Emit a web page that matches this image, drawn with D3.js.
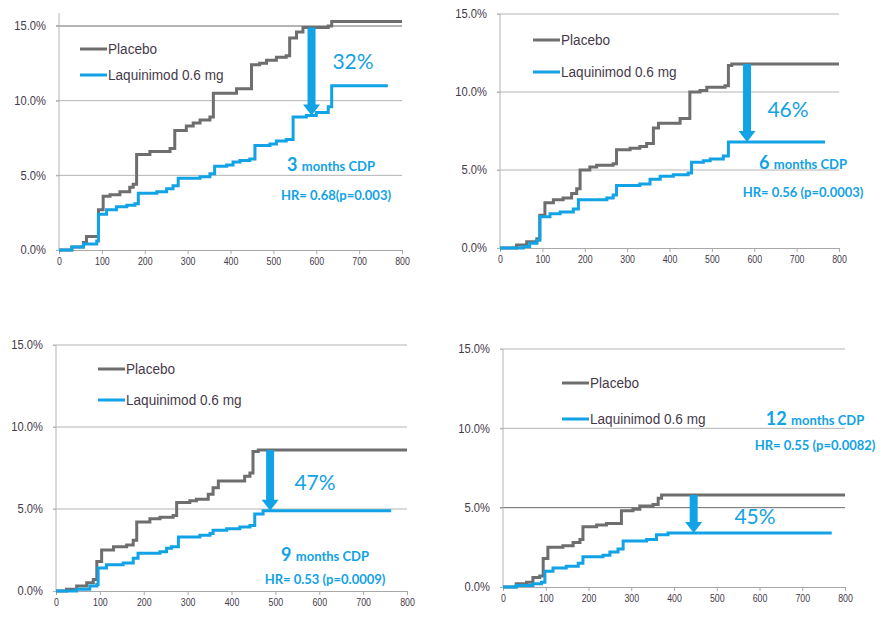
<!DOCTYPE html>
<html>
<head>
<meta charset="utf-8">
<script src="https://cdn.jsdelivr.net/npm/d3@7"></script>
<style>
  html, body { margin: 0; padding: 0; background: #fff; }
  svg { display: block; }
</style>
</head>
<body>
<svg id="chart" width="881" height="619"></svg>
<script>
// Cumulative proportion with confirmed disability progression (%), by study day.
// Each pair is [day, percent] where a new step level begins.
const placebo3m = [[0,0],[30,0.2],[57,0.5],[64,0.9],[92,2.7],[103,3.6],[119,3.7],[142,3.9],[165,4.2],[173,4.4],[181,6.4],[212,6.6],[259,6.8],[270,8.0],[297,8.3],[313,8.5],[329,8.7],[352,8.9],[360,10.5],[414,10.8],[449,12.4],[468,12.5],[484,12.7],[507,12.9],[530,13.0],[538,14.2],[554,14.6],[569,14.9],[628,15.0],[636,15.3],[800,15.3]];
const laquinimod3m = [[0,0],[30,0.2],[57,0.4],[88,0.6],[92,2.4],[111,2.7],[134,2.9],[158,3.0],[177,3.1],[185,3.8],[228,3.9],[251,4.1],[266,4.3],[278,4.8],[329,4.9],[352,5.1],[363,5.6],[391,5.7],[406,5.9],[422,6.0],[445,6.1],[457,7.0],[492,7.1],[507,7.3],[530,7.4],[546,8.9],[577,9.0],[600,9.2],[628,9.6],[636,11.0],[767,11.0]];

const placebo6m = [[0,0],[39,0.2],[63,0.4],[87,0.6],[94,2.1],[106,2.9],[126,3.1],[149,3.2],[169,3.5],[181,3.8],[189,5.0],[212,5.2],[228,5.3],[267,5.4],[275,6.3],[307,6.4],[330,6.5],[346,6.7],[362,7.7],[374,8.0],[425,8.3],[448,10.0],[472,10.1],[488,10.3],[531,10.4],[539,11.7],[547,11.8],[800,11.8]];
const laquinimod6m = [[0,0],[55,0.1],[70,0.3],[87,0.5],[94,2.0],[118,2.2],[142,2.3],[173,2.5],[185,3.1],[252,3.2],[267,3.4],[275,4.0],[330,4.1],[354,4.4],[378,4.6],[409,4.7],[444,4.8],[452,5.5],[480,5.6],[496,5.7],[527,5.9],[539,6.8],[767,6.8]];

const placebo9m = [[0,0],[24,0.1],[47,0.3],[70,0.5],[85,0.7],[93,1.8],[104,2.5],[131,2.7],[161,2.8],[176,3.1],[184,4.2],[214,4.4],[237,4.5],[267,4.6],[275,5.4],[305,5.5],[320,5.6],[347,5.9],[358,6.3],[370,6.7],[430,7.0],[442,7.2],[449,8.5],[461,8.6],[800,8.6]];
const laquinimod9m = [[0,0],[47,0.1],[77,0.3],[93,0.4],[96,1.4],[115,1.6],[153,1.7],[176,2.0],[187,2.3],[237,2.4],[252,2.6],[263,2.7],[279,3.3],[328,3.4],[351,3.5],[358,3.7],[389,3.8],[419,3.9],[442,4.0],[453,4.7],[472,4.9],[764,4.9]];

const placebo12m = [[0,0],[31,0.2],[55,0.3],[70,0.6],[86,0.7],[94,1.8],[105,2.5],[140,2.6],[164,2.8],[180,3.0],[187,3.8],[219,3.9],[242,4.0],[277,4.8],[304,4.9],[320,5.1],[351,5.2],[363,5.6],[371,5.8],[800,5.8]];
const laquinimod12m = [[0,0],[31,0.1],[70,0.2],[90,0.3],[98,1.0],[117,1.2],[148,1.3],[176,1.5],[187,1.9],[234,2.0],[250,2.2],[269,2.4],[281,2.9],[336,3.0],[359,3.3],[386,3.4],[769,3.4]];

// Annotation text and the day at which the risk-reduction arrow is drawn
const cdpMonths = ["3", "6", "9", "12"];
const reductionLabels = ["32%", "46%", "47%", "45%"];
const hazardLabels = ["HR= 0.68(p=0.003)", "HR= 0.56 (p=0.0003)", "HR= 0.53 (p=0.0009)", "HR= 0.55 (p=0.0082)"];
const arrowDays = [589, 583, 488, 446];

const seriesNames = ["Placebo", "Laquinimod 0.6 mg"];
const xTickValues = [0, 100, 200, 300, 400, 500, 600, 700, 800];
const yTickValues = [0, 5, 10, 15];

const placeboColor = "#6e6e6e";
const laqColor = "#12a2e6";
const textColor = "#463a4a";

// Panel geometry
const panels = [
  { placebo: placebo3m,  laq: laquinimod3m,  x0: 59,  x1: 402, yTop: 26,  yBot: 250, axisTop: 13,
    legX: 80,  legY: [49, 75],   pctPos: [353, 62],  cdpPos: [331, 165], hrPos: [336, 195], darkGrid: 15 },
  { placebo: placebo6m,  laq: laquinimod6m,  x0: 500, x1: 839, yTop: 14,  yBot: 248, axisTop: 14,
    legX: 533, legY: [40, 72],   pctPos: [788, 110], cdpPos: [803, 163], hrPos: [803, 192], darkGrid: null },
  { placebo: placebo9m,  laq: laquinimod9m,  x0: 56,  x1: 407, yTop: 345, yBot: 591, axisTop: 345,
    legX: 98,  legY: [369, 400], pctPos: [315, 483], cdpPos: [325, 555], hrPos: [325, 579], darkGrid: null },
  { placebo: placebo12m, laq: laquinimod12m, x0: 503, x1: 845, yTop: 349, yBot: 587, axisTop: 349,
    legX: 562, legY: [383, 419], pctPos: [755, 517], cdpPos: [815, 419], hrPos: [815, 445], darkGrid: 5 }
];

const svg = d3.select("#chart");

function valueAt(series, day) {
  let v = series[0][1];
  for (const [d, p] of series) { if (d <= day) v = p; else break; }
  return v;
}

function condense(sel, factor) {
  sel.each(function () {
    const w = this.getComputedTextLength();
    d3.select(this).attr("textLength", w * factor).attr("lengthAdjust", "spacingAndGlyphs");
  });
}

panels.forEach((p, i) => {
  const x = d3.scaleLinear().domain([0, 800]).range([p.x0, p.x1]);
  const y = d3.scaleLinear().domain([0, 15]).range([p.yBot, p.yTop]);
  const g = svg.append("g");

  // horizontal gridlines
  g.selectAll("line.grid")
    .data(yTickValues.filter(v => v > 0))
    .join("line")
    .attr("x1", x(0) - 3).attr("x2", x(800))
    .attr("y1", d => y(d)).attr("y2", d => y(d))
    .attr("stroke", d => d === p.darkGrid ? "#6a6a6a" : "#b4b4b4")
    .attr("stroke-width", 1);

  // y axis
  const yAxis = g.append("g")
    .attr("transform", `translate(${x(0)},0)`)
    .call(d3.axisLeft(y).tickValues(yTickValues).tickSize(3).tickPadding(10)
      .tickFormat(d => d.toFixed(1) + "%"));
  yAxis.select(".domain").remove();
  yAxis.selectAll(".tick line").attr("stroke", "#b4b4b4");
  yAxis.selectAll(".tick text")
    .attr("fill", textColor)
    .style("font-family", "'Liberation Sans', Arial, sans-serif")
    .style("font-size", "12px")
    .call(condense, 0.93);
  g.append("line")
    .attr("x1", x(0)).attr("x2", x(0))
    .attr("y1", p.axisTop).attr("y2", y(0))
    .attr("stroke", "#b4b4b4");

  // x axis
  const xAxis = g.append("g")
    .attr("transform", `translate(0,${y(0)})`)
    .call(d3.axisBottom(x).tickValues(xTickValues).tickSize(4).tickPadding(4).tickSizeOuter(0));
  xAxis.select(".domain").attr("stroke", "#a8a8a8");
  xAxis.selectAll(".tick line").attr("stroke", "#a8a8a8");
  xAxis.selectAll(".tick text")
    .attr("fill", textColor)
    .style("font-family", "'Liberation Sans', Arial, sans-serif")
    .style("font-size", "10px")
    .call(condense, 0.88);

  // survival-style step curves
  const line = d3.line().x(d => x(d[0])).y(d => y(d[1])).curve(d3.curveStepAfter);
  g.append("path").datum(p.placebo).attr("d", line)
    .attr("fill", "none").attr("stroke", placeboColor).attr("stroke-width", 3);
  g.append("path").datum(p.laq).attr("d", line)
    .attr("fill", "none").attr("stroke", laqColor).attr("stroke-width", 3);

  // legend
  [placeboColor, laqColor].forEach((c, k) => {
    g.append("line")
      .attr("x1", p.legX).attr("x2", p.legX + 27)
      .attr("y1", p.legY[k]).attr("y2", p.legY[k])
      .attr("stroke", c).attr("stroke-width", 3);
    g.append("text")
      .attr("x", p.legX + 28).attr("y", p.legY[k])
      .attr("dy", "0.35em")
      .attr("fill", textColor)
      .style("font-family", "'Liberation Sans', Arial, sans-serif")
      .style("font-size", "14px")
      .text(seriesNames[k])
      .call(condense, 0.97);
  });

  // risk-reduction arrow between the two curves
  const day = arrowDays[i];
  const top = y(valueAt(p.placebo, day));
  const tip = y(valueAt(p.laq, day));
  const ax = x(day);
  const headH = 11, headW = 17, shaftW = 8;
  g.append("rect")
    .attr("x", ax - shaftW / 2).attr("y", top)
    .attr("width", shaftW).attr("height", Math.max(0, tip - headH - top + 1))
    .attr("fill", laqColor);
  g.append("path")
    .attr("d", `M${ax - headW / 2},${tip - headH} L${ax + headW / 2},${tip - headH} L${ax},${tip} Z`)
    .attr("fill", laqColor);

  // annotations
  g.append("text")
    .attr("x", p.pctPos[0]).attr("y", p.pctPos[1]).attr("dy", "0.35em")
    .attr("text-anchor", "middle")
    .attr("fill", laqColor)
    .style("font-family", "Lato, 'Open Sans', sans-serif")
    .style("font-size", "21px")
    .text(reductionLabels[i]);

  const cdp = g.append("text")
    .attr("x", p.cdpPos[0]).attr("y", p.cdpPos[1]).attr("dy", "0.35em")
    .attr("text-anchor", "middle")
    .attr("fill", laqColor)
    .style("font-family", "Lato, 'Open Sans', sans-serif")
    .style("font-weight", "bold");
  cdp.append("tspan").style("font-size", "18px").text(cdpMonths[i] + " ");
  cdp.append("tspan").style("font-size", "13px").text("months CDP");

  g.append("text")
    .attr("x", p.hrPos[0]).attr("y", p.hrPos[1]).attr("dy", "0.35em")
    .attr("text-anchor", "middle")
    .attr("fill", laqColor)
    .style("font-family", "Lato, 'Open Sans', sans-serif")
    .style("font-weight", "bold")
    .style("font-size", "13px")
    .text(hazardLabels[i]);
});
</script>
</body>
</html>
